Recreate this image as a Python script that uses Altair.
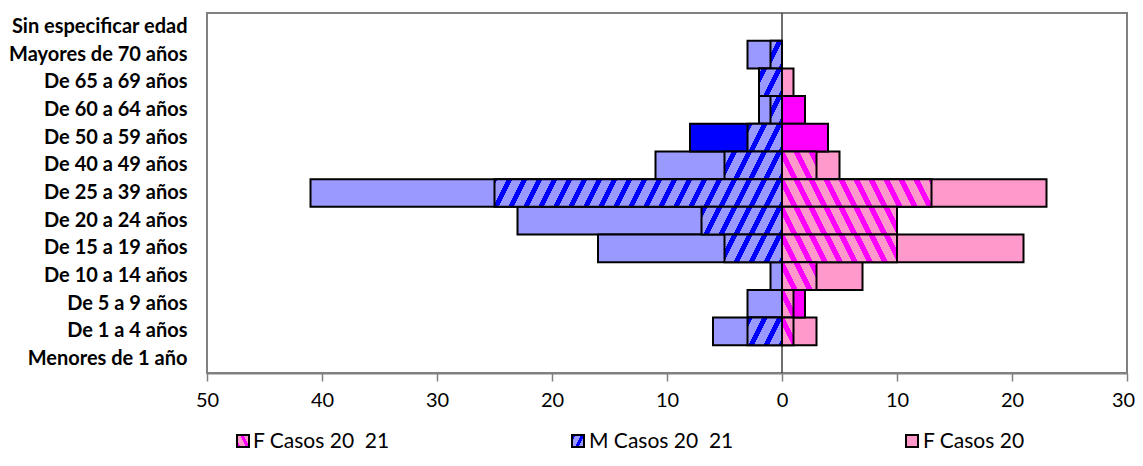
import altair as alt
import pandas as pd

# ---------------- data (top to bottom) ----------------
categories = ["Sin especificar edad", "Mayores de 70 años", "De 65 a 69 años",
              "De 60 a 64 años", "De 50 a 59 años", "De 40 a 49 años",
              "De 25 a 39 años", "De 20 a 24 años", "De 15 a 19 años",
              "De 10 a 14 años", "De 5 a 9 años", "De 1 a 4 años",
              "Menores de 1 año"]
f_casos_20 = [0, 0, 1, 0, 0, 5, 23, 10, 21, 7, 0, 3, 0]
f_casos_21 = [0, 0, 0, 2, 4, 0, 0, 0, 0, 0, 2, 0, 0]
f_casos_20_21 = [0, 0, 0, 0, 0, 3, 13, 10, 10, 3, 1, 1, 0]
m_casos_20 = [0, 3, 2, 2, 0, 11, 41, 23, 16, 1, 3, 6, 0]
m_casos_21 = [0, 0, 0, 0, 8, 0, 0, 0, 0, 0, 0, 0, 0]
m_casos_20_21 = [0, 1, 2, 1, 3, 5, 25, 7, 5, 0, 0, 3, 0]
legend_labels = ["F Casos 20\u00a0 21", "M Casos 20\u00a0 21", "F Casos 20"]
x_ticks = [-50, -40, -30, -20, -10, 0, 10, 20, 30]

# ---------------- layout / style ----------------
W, H = 920, 360
XMIN, XMAX = -50, 30
PXU = W / (XMAX - XMIN)
BAND = H / len(categories)
ZERO_PX = (0 - XMIN) * PXU
K = 0.5
FONT = "Lato"

LIGHT_BLUE, BLUE = "#9999FF", "#0000FF"
LIGHT_PINK, MAGENTA = "#FF99CC", "#FF00FF"


def hatch_gradient(w, h, x_abs, bg, fg, direction, period=15.0, thick=5.5):
    L = w + K * h
    c = L / (w * w + (K * h) ** 2)
    if direction == "/":
        x1, y1, x2, y2 = 0.0, 0.0, w * c, K * h * c
    else:
        x1, y1, x2, y2 = 0.0, 1.0, w * c, 1.0 - K * h * c
    segs = []
    phase = (-x_abs) % period
    a = phase - period
    pos = 0.0
    while a < L:
        s0, s1 = max(a, 0.0), min(a + thick, L)
        if s1 > s0:
            if s0 > pos:
                segs.append((pos, s0, bg))
            segs.append((s0, s1, fg))
            pos = s1
        a += period
    if pos < L:
        segs.append((pos, L, bg))
    stops = []
    for s0, s1, col in segs:
        stops.append(alt.GradientStop(offset=round(s0 / L, 5), color=col))
        stops.append(alt.GradientStop(offset=round(s1 / L, 5), color=col))
    return alt.LinearGradient(gradient="linear", stops=stops,
                              x1=round(x1, 6), y1=round(y1, 6),
                              x2=round(x2, 6), y2=round(y2, 6))


def frame(values, sign):
    rows = [{"cat": c, "start": 0, "end": sign * v}
            for c, v in zip(categories, values) if v != 0]
    return pd.DataFrame(rows, columns=["cat", "start", "end"])


x_scale = alt.Scale(domain=[XMIN, XMAX], nice=False, zero=False)
y_scale = alt.Scale(domain=categories, paddingInner=0, paddingOuter=0)

x_axis = alt.Axis(values=x_ticks, labelExpr="abs(datum.value)", title=None,
                  grid=False, domainColor="#808080", domainWidth=2,
                  tickColor="#808080", tickWidth=1.5, tickSize=8,
                  labelFont=FONT, labelFontSize=20, labelColor="black",
                  labelPadding=9, labelFlush=False, labelOverlap=False,
                  labelOffset=alt.expr("datum.value == 30 ? -4 : 0"))
y_axis = alt.Axis(title=None, domain=False, ticks=False, labelFont=FONT,
                  labelFontSize=20, labelFontWeight="bold", labelColor="black",
                  labelPadding=20)


def enc(ch):
    return ch.encode(
        y=alt.Y("cat:N", scale=y_scale, axis=y_axis),
        x=alt.X("start:Q", scale=x_scale, axis=x_axis),
        x2="end:Q",
    )


layers = []
# zero line
layers.append(alt.Chart(pd.DataFrame({"z": [0]})).mark_rule(
    color="#404040", strokeWidth=1.5).encode(
    x=alt.X("z:Q", scale=x_scale, axis=x_axis)))

for vals, sign, color, hatched, fg, direction in [
    (m_casos_20, -1, LIGHT_BLUE, False, None, None),
    (m_casos_21, -1, BLUE, False, None, None),
    (m_casos_20_21, -1, LIGHT_BLUE, True, BLUE, "/"),
    (f_casos_20, 1, LIGHT_PINK, False, None, None),
    (f_casos_21, 1, MAGENTA, False, None, None),
    (f_casos_20_21, 1, LIGHT_PINK, True, MAGENTA, "\\"),
]:
    df = frame(vals, sign)
    if not hatched:
        layers.append(enc(alt.Chart(df).mark_bar(
            fill=color, stroke="black", strokeWidth=2)))
    else:
        for _, r in df.iterrows():
            w = abs(r["end"]) * PXU
            x_abs = ZERO_PX - w if sign < 0 else ZERO_PX
            g = hatch_gradient(w, BAND, x_abs, color, fg, direction,
                               thick=5.5 if direction == "/" else 6.0)
            layers.append(enc(alt.Chart(pd.DataFrame([r])).mark_bar(
                fill=g, stroke="black", strokeWidth=2)))

# legend (manual)
leg_swatch_x = [30, 365, 699]
leg_text_x = [46, 382, 716]
leg_fills = [
    hatch_gradient(12, 12, 0, LIGHT_PINK, MAGENTA, "\\", period=9, thick=3.5),
    hatch_gradient(12, 12, 0, LIGHT_BLUE, BLUE, "/", period=9, thick=3.5),
    LIGHT_PINK,
]
for lab, sx, tx, fill in zip(legend_labels, leg_swatch_x, leg_text_x, leg_fills):
    d = pd.DataFrame({"label": [lab]})
    layers.append(alt.Chart(d).mark_rect(fill=fill, stroke="black",
                                         strokeWidth=2).encode(
        x=alt.value(sx), x2=alt.value(sx + 12),
        y=alt.value(422), y2=alt.value(434)))
    layers.append(alt.Chart(d).mark_text(
        align="left", baseline="middle", font=FONT, fontSize=21,
        color="black").encode(
        x=alt.value(tx), y=alt.value(429), text="label:N"))

chart = alt.layer(*layers).properties(
    width=W, height=H, autosize="none",
    padding={"left": 199, "top": 5, "right": 8, "bottom": 85},
).configure_view(stroke="#808080", strokeWidth=2)

chart.save("out.html", embed_options={"renderer": "svg", "actions": False})
